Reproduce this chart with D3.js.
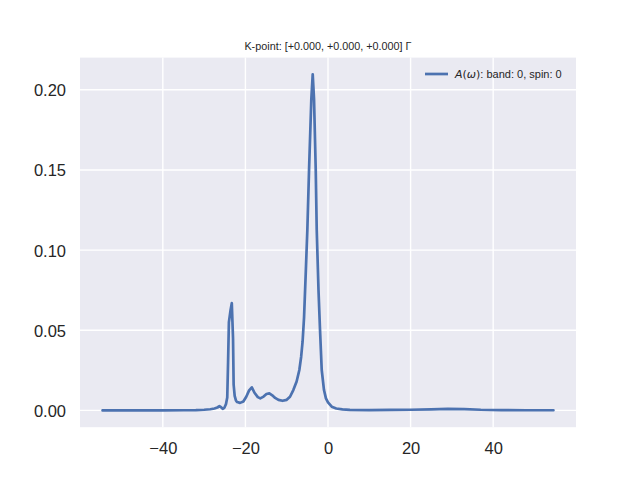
<!DOCTYPE html>
<html>
<head>
<meta charset="utf-8">
<script src="https://cdn.jsdelivr.net/npm/d3@7"></script>
<style>
  html, body { margin: 0; padding: 0; background: #ffffff; }
  svg { display: block; }
</style>
</head>
<body>
<svg id="chart" width="640" height="480"></svg>
<script>
// ---- data ----
const titleText = "K-point: [+0.000, +0.000, +0.000] \u0393";
const omega = [
  -54.6, -50, -45, -40, -35, -32, -30, -28.5, -27.5, -26.8, -26.3, -25.9, -25.5, -25.1, -24.7,
  -24.4, -24.2, -24.0, -23.6, -23.3, -23.0, -22.85, -22.6, -22.3, -22.0, -21.3, -20.5, -19.8,
  -19.1, -18.45, -17.8, -17.0, -16.4, -15.6, -14.9, -14.2, -13.5, -12.8, -12.0, -11.0, -10.0,
  -9.2, -8.4, -7.6, -6.94, -6.5, -6.15, -5.8, -5.4, -5.0, -4.59, -4.04, -3.7, -3.38, -2.97, -2.73,
  -2.3, -1.93, -1.52, -0.97, -0.5, 0.0, 0.9, 2.0, 3.5, 5.3, 10, 15, 20, 25, 29, 33, 37, 42, 48, 54.6
];
const spectral = [
  0.0, 0.0, 0.0, 0.0, 0.0001, 0.0002, 0.0004, 0.0007, 0.0012, 0.0018, 0.0026, 0.0020, 0.0010, 0.0016, 0.0040,
  0.0080, 0.030, 0.055, 0.0625, 0.0669, 0.045, 0.016, 0.009, 0.0062, 0.0052, 0.0047, 0.0056, 0.0085,
  0.0125, 0.0144, 0.0110, 0.0083, 0.0075, 0.0086, 0.0102, 0.0106, 0.0094, 0.0078, 0.0066, 0.0060, 0.0066,
  0.0085, 0.0127, 0.0180, 0.0252, 0.0335, 0.0430, 0.0580, 0.0850, 0.1127, 0.1500, 0.1940, 0.2096, 0.1940, 0.1500, 0.1127,
  0.0750, 0.0502, 0.0252, 0.0127, 0.0075, 0.0050, 0.0023, 0.0012, 0.0006, 0.0003, 0.0002, 0.0003, 0.0004, 0.0007, 0.0010, 0.0008, 0.0004, 0.0002, 0.0001, 0.0001
];
const xTicks = [-40, -20, 0, 20, 40];
const yTicks = [0.00, 0.05, 0.10, 0.15, 0.20];
const legendLabel = { math1: "A", math2: "\u03C9", rest: ": band: 0, spin: 0" };

// ---- layout ----
const W = 640, H = 480;
const axLeft = 80, axRight = 576, axTop = 57.6, axBottom = 427.2;
const svg = d3.select("#chart");
svg.append("rect").attr("width", W).attr("height", H).attr("fill", "#ffffff");

const xExt = d3.extent(omega), yExt = d3.extent(spectral);
const xm = (xExt[1] - xExt[0]) * 0.05, ym = (yExt[1] - yExt[0]) * 0.05;
const x = d3.scaleLinear().domain([xExt[0] - xm, xExt[1] + xm]).range([axLeft, axRight]);
const y = d3.scaleLinear().domain([yExt[0] - ym, yExt[1] + ym]).range([axBottom, axTop]);

const font = "'Liberation Sans', Arial, 'DejaVu Sans', sans-serif";
const textColor = "#262626";

// axes background
svg.append("rect")
  .attr("x", axLeft).attr("y", axTop)
  .attr("width", axRight - axLeft).attr("height", axBottom - axTop)
  .attr("fill", "#EAEAF2");

// grid
const grid = svg.append("g");
grid.selectAll(".gx").data(xTicks).join("line")
  .attr("x1", d => x(d)).attr("x2", d => x(d))
  .attr("y1", axTop).attr("y2", axBottom)
  .attr("stroke", "#ffffff").attr("stroke-width", 1.4);
grid.selectAll(".gy").data(yTicks).join("line")
  .attr("x1", axLeft).attr("x2", axRight)
  .attr("y1", d => y(d)).attr("y2", d => y(d))
  .attr("stroke", "#ffffff").attr("stroke-width", 1.4);

// axes via d3 axis (ticks hidden, labels only)
const xAxis = d3.axisBottom(x).tickValues(xTicks).tickSize(0).tickPadding(0)
  .tickFormat(d => d3.format("d")(d).replace("-", "\u2212"));
const gx = svg.append("g").attr("transform", `translate(0,${axBottom})`).call(xAxis);
gx.select(".domain").remove();
gx.selectAll("text").attr("font-family", font).attr("font-size", 16.5)
  .attr("fill", textColor).attr("dy", null).attr("y", 27);

const yAxis = d3.axisLeft(y).tickValues(yTicks).tickSize(0).tickPadding(14)
  .tickFormat(d3.format(".2f"));
const gy = svg.append("g").attr("transform", `translate(${axLeft},0)`).call(yAxis);
gy.select(".domain").remove();
gy.selectAll("text").attr("font-family", font).attr("font-size", 16.5)
  .attr("fill", textColor).attr("dy", "0.36em");

// data line
const line = d3.line().x((d, i) => x(omega[i])).y(d => y(d)).curve(d3.curveLinear);
svg.append("path")
  .datum(spectral)
  .attr("d", line)
  .attr("fill", "none")
  .attr("stroke", "#4C72B0")
  .attr("stroke-width", 2.7)
  .attr("stroke-linejoin", "round")
  .attr("stroke-linecap", "round");

// title
svg.append("text")
  .attr("x", (axLeft + axRight) / 2).attr("y", 49.5)
  .attr("text-anchor", "middle")
  .attr("font-family", font).attr("font-size", 10.8)
  .attr("fill", textColor)
  .text(titleText);

// legend
const lg = svg.append("g");
lg.append("line")
  .attr("x1", 425).attr("x2", 448).attr("y1", 74).attr("y2", 74)
  .attr("stroke", "#4C72B0").attr("stroke-width", 2.7);
const lt = lg.append("text")
  .attr("x", 455).attr("y", 77.8)
  .attr("font-family", font).attr("font-size", 11)
  .attr("fill", textColor);
const mathFont = "'DejaVu Sans', sans-serif";
lt.append("tspan").attr("font-family", mathFont).attr("font-style", "italic").text(legendLabel.math1);
lt.append("tspan").attr("font-family", mathFont).text("(");
lt.append("tspan").attr("font-family", mathFont).attr("font-style", "italic").text(legendLabel.math2);
lt.append("tspan").attr("font-family", mathFont).text(")");
lt.append("tspan").text(legendLabel.rest);
</script>
</body>
</html>
